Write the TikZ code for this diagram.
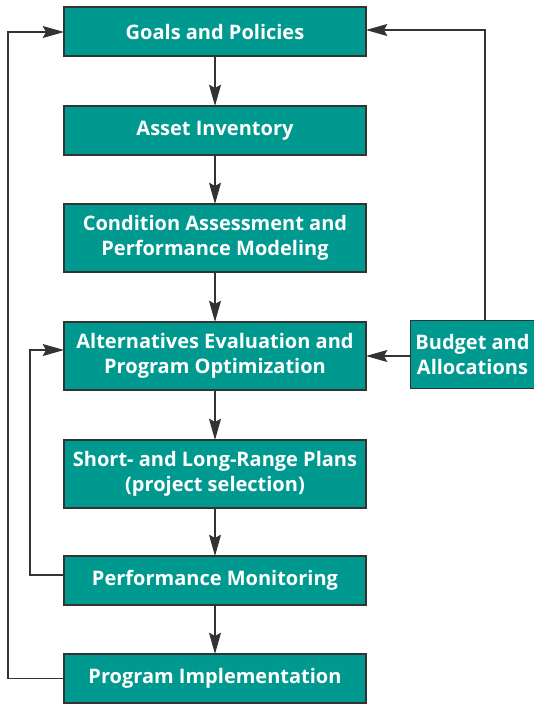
\documentclass[tikz,border=0pt]{standalone}
\usepackage{fontspec}
\setmainfont{Open Sans}
\usetikzlibrary{arrows.meta,positioning}
\definecolor{boxteal}{HTML}{00998F}
\definecolor{edgegray}{HTML}{333333}
\begin{document}
\begin{tikzpicture}[x=0.75pt,y=-0.75pt,
  box/.style={draw=edgegray,line width=1.1pt,fill=boxteal,text=white,
    font=\bfseries\fontsize{15pt}{18.75pt}\selectfont,align=center,
    minimum width=226.5pt,inner sep=2pt,outer sep=0pt},
  short/.style={minimum height=36.75pt},
  tall/.style={minimum height=51pt},
  conn/.style={draw=edgegray,line width=0.9pt,-{Stealth[length=16pt,width=9pt,inset=2.5pt]}},
  plain/.style={draw=edgegray,line width=0.9pt}]
\useasboundingbox (0,0) rectangle (533,704);
\node[box,short] (goals) at (215,31.5) {Goals and Policies};
\node[box,short] (asset) at (215,130.5) {Asset Inventory};
\node[box,tall] (cond) at (215,238) {Condition Assessment and\\Performance Modeling};
\node[box,tall] (alt) at (215,356) {Alternatives Evaluation and\\Program Optimization};
\node[box,tall] (plans) at (215,474) {Short- and Long-Range Plans\\(project selection)};
\node[box,short] (perf) at (215,580.5) {Performance Monitoring};
\node[box,short] (impl) at (215,678.5) {Program Implementation};
\node[box,tall,minimum width=93pt] (budget) at (472.5,354.5) {Budget and\\Allocations};
\draw[conn] (goals) -- (asset);
\draw[conn] (asset) -- (cond);
\draw[conn] (cond) -- (alt);
\draw[conn] (alt) -- (plans);
\draw[conn] (plans) -- (perf);
\draw[conn] (perf) -- (impl);
\draw[conn] (budget.west |- 0,356) -- (alt.east |- 0,356);
\coordinate (bud top) at (485,30);
\draw[conn] (budget.north -| bud top) -- (bud top) -- (goals.east |- bud top);
\coordinate (inner) at (30,350);
\draw[conn] (perf.west |- 0,575) -- (inner |- 0,575) -- (inner) -- (alt.west |- inner);
\coordinate (outer) at (8,32);
\draw[conn] (impl.west) -- (outer |- impl.west) -- (outer) -- (goals.west |- outer);
\end{tikzpicture}
\end{document}
